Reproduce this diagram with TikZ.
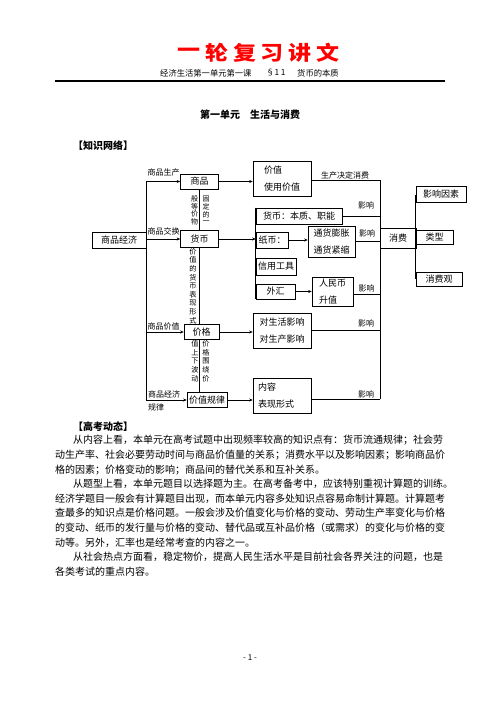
\documentclass[tikz,border=0pt]{standalone}
\usepackage{fontspec}
\usepackage{graphicx}
\setmainfont{Noto Sans CJK SC}
\usetikzlibrary{arrows.meta}
\begin{document}
\begin{tikzpicture}[x=1pt,y=-1pt,
  box/.style={draw,line width=0.6pt,inner sep=0pt,font=\fontsize{9}{11}\selectfont},
  box2/.style={draw,line width=0.6pt,inner sep=0pt,align=left,font=\fontsize{9}{17}\selectfont},
  arr/.style={-{Stealth[length=3.5pt,width=3pt]},line width=0.5pt},
  ln/.style={line width=0.5pt},
  lab/.style={inner sep=0pt,font=\fontsize{8}{9}\selectfont},
  vt/.style={inner sep=0pt,font=\fontsize{7}{8}\selectfont},
  vt2/.style={inner sep=0pt,font=\fontsize{7.2}{8}\selectfont},
  body/.style={anchor=base west,inner sep=0pt,font=\fontsize{10}{12}\selectfont}]
\fill[white] (0,0) rectangle (500,706);
\useasboundingbox (0,0) rectangle (500,706);
% header
\foreach \c [count=\i] in {一,轮,复,习,讲,文}
  \node[inner sep=0pt,text=red,font=\fontsize{20}{22}\selectfont\bfseries] (h\i) at (161.2+27.8*\i,53) {\scalebox{1.15}[1]{\c}};
\node[anchor=west,inner sep=0pt,font=\fontsize{8.3}{9}\selectfont] (sub1) at (160,73) {经济生活第一单元第一课};
\node[anchor=west,inner sep=0pt,font=\fontsize{8.3}{9}\selectfont] (sub2) at (266,73) {§1 1};
\node[anchor=west,inner sep=0pt,font=\fontsize{8.3}{9}\selectfont] (sub3) at (297,73) {货币的本质};
\draw[line width=1.2pt] (55,81) -- (445,81);
\node[anchor=base west,inner sep=0pt,font=\fontsize{10}{12}\selectfont\bfseries] (title) at (200,119) {第一单元　生活与消费};
\node[anchor=base west,inner sep=0pt,font=\fontsize{10}{12}\selectfont\bfseries] (zswl) at (73,149) {【知识网络】};
% diagram nodes
\node[box,minimum width=54,minimum height=16] (ecn) at (119,240) {商品经济};
\node[box,minimum width=38,minimum height=15] (sp) at (199.5,181.5) {商品};
\node[box,minimum width=38,minimum height=17] (hb) at (199.5,239) {货币};
\node[box,minimum width=35,minimum height=15] (jg) at (201.5,332) {价格};
\node[box,minimum width=40,minimum height=15] (jzgl) at (207,400) {价值规律};
\node[box2,minimum width=58,minimum height=35] (jz) at (282,178.5) {价值\\使用价值};
\node[box,minimum width=86,minimum height=16] (hbbz) at (299,216) {货币：本质、职能};
\node[box,minimum width=32,minimum height=16] (zb) at (272,240) {纸币：};
\node[box2,minimum width=47,minimum height=31] (th) at (331.5,241.5) {通货膨胀\\通货紧缩};
\node[box,minimum width=40,minimum height=17] (xy) at (276,266.5) {信用工具};
\node[box,minimum width=39,minimum height=15] (wh) at (275.5,291.5) {外汇};
\node[box2,minimum width=41,minimum height=29] (rmb) at (332.5,291.5) {人民币\\升值};
\node[box2,minimum width=58,minimum height=35] (shyx) at (282,330.5) {对生活影响\\对生产影响};
\node[box2,minimum width=58,minimum height=35,text width=48] (nr) at (282,396) {内容\\表现形式};
\node[box,minimum width=36,minimum height=20] (xf) at (398,238) {消费};
\node[box,minimum width=50,minimum height=16] (yx) at (441,194.5) {影响因素};
\node[box,minimum width=37,minimum height=14] (lx) at (434.5,237) {类型};
\node[box,minimum width=46,minimum height=14] (xfg) at (439,279) {消费观};
% left trunk
\coordinate (L1) at (146,181.5);
\coordinate (L2) at (146,239);
\coordinate (L3) at (146,332);
\coordinate (L4) at (146,400);
\draw[ln] (L1) -- (L4);
\draw[arr] (L1) -- (L1 -| sp.west);
\draw[arr] (L2) -- (L2 -| hb.west);
\draw[arr] (L3) -- (L3 -| jg.west);
\draw[arr] (L4) -- (L4 -| jzgl.west);
\node[lab] (l1) at (163.5,172) {商品生产};
\node[lab] (l2) at (163.5,231) {商品交换};
\node[lab] (l3) at (163.5,326) {商品价值};
\node[lab,anchor=west] (l4a) at (148,394.5) {商品经济};
\node[lab,anchor=west] (l4b) at (148,407) {规律};
% middle stack
\draw[ln] (sp.south) -- (hb.north);
\draw[ln] (hb.south) -- (hb.south |- jg.north);
\draw[ln] (hb.south |- jg.south) -- (hb.south |- jzgl.north);
\foreach \c [count=\i] in {固,定,的,一} \node[vt] (va\i) at (206,191.5+7.6*\i) {\c};
\foreach \c [count=\i] in {般,等,价,物} \node[vt] (vb\i) at (194.5,191.5+7.6*\i) {\c};
\foreach \c [count=\i] in {价,值,的,货,币,表,现,形,式} \node[vt2] (vc\i) at (193,242.9+8.6*\i) {\c};
\foreach \c [count=\i] in {价,格,围,绕,价} \node[vt2] (vd\i) at (206,335.3+8.7*\i) {\c};
\foreach \c [count=\i] in {值,上,下,波,动} \node[vt2] (ve\i) at (195,335.3+8.7*\i) {\c};
% arrows to right
\draw[arr] (sp.east) -- (sp.east -| jz.west);
\draw[arr] (hb.east) -- (hb.east -| zb.west);
\draw[arr] (zb.east) -- (zb.east -| th.west);
\draw[arr] (wh.east) -- (wh.east -| rmb.west);
\draw[arr] (jg.east) -- (jg.east -| shyx.west);
\draw[arr] (jzgl.east) -- (jzgl.east -| nr.west);
\draw[ln] (hbbz.north west) -- (wh.south west);
% to consumption
\coordinate (R1) at (380,180);
\coordinate (R6) at (380,399);
\draw[ln] (R1) -- (R6);
\draw[ln] (jz.east |- R1) -- (R1);
\draw[ln] (hbbz.east) -- (hbbz.east -| xf.west);
\draw[ln] (th.east) -- (th.east -| xf.west);
\draw[ln] ([yshift=-2.5pt]rmb.east) -- ([yshift=-2.5pt]rmb.east -| xf.west);
\draw[ln] (shyx.east) -- (shyx.east -| xf.west);
\draw[ln] (nr.east |- R6) -- (R6);
\draw[ln] (yx.west) -- (xfg.west);
\node[lab] (e0) at (345,175) {生产决定消费};
\node[lab] (e1) at (366,205) {影响};
\node[lab] (e2) at (367,233) {影响};
\node[lab] (e3) at (366.5,288.5) {影响};
\node[lab] (e4) at (366,323) {影响};
\node[lab] (e5) at (366,394.5) {影响};
% text
\node[anchor=base west,inner sep=0pt,font=\fontsize{10}{12}\selectfont\bfseries] (gkdt) at (73,430) {【高考动态】};
\node[body] (t1) at (73,443.8) {从内容上看，本单元在高考试题中出现频率较高的知识点有：货币流通规律；社会劳};
\node[body] (t2) at (55,458.4) {动生产率、社会必要劳动时间与商品价值量的关系；消费水平以及影响因素；影响商品价};
\node[body] (t3) at (55,473) {格的因素；价格变动的影响；商品间的替代关系和互补关系。};
\node[body] (t4) at (73,487.6) {从题型上看，本单元题目以选择题为主。在高考备考中，应该特别重视计算题的训练。};
\node[body] (t5) at (55,502.2) {经济学题目一般会有计算题目出现，而本单元内容多处知识点容易命制计算题。计算题考};
\node[body] (t6) at (55,516.8) {查最多的知识点是价格问题。一般会涉及价值变化与价格的变动、劳动生产率变化与价格};
\node[body] (t7) at (55,531.4) {的变动、纸币的发行量与价格的变动、替代品或互补品价格（或需求）的变化与价格的变};
\node[body] (t8) at (55,546) {动等。另外，汇率也是经常考查的内容之一。};
\node[body] (t9) at (73,560.6) {从社会热点方面看，稳定物价，提高人民生活水平是目前社会各界关注的问题，也是};
\node[body] (t10) at (55,575.2) {各类考试的重点内容。};
\node[inner sep=0pt,font=\fontsize{8}{9}\selectfont] (pg) at (250,658) {- 1 -};
\end{tikzpicture}
\end{document}
